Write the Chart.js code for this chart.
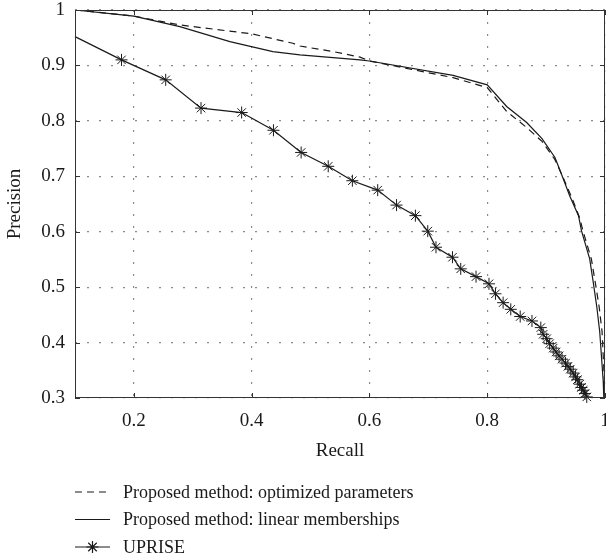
<!DOCTYPE html>
<html>
<head>
<meta charset="utf-8">
<script src="https://cdn.jsdelivr.net/npm/chart.js@4.4.1/dist/chart.umd.min.js"></script>
<style>
  html, body { margin: 0; padding: 0; background: #fff; }
</style>
</head>
<body>
<canvas id="myChart" width="606" height="560"></canvas>
<script>
// values (recall, precision)
const seriesNames = [
  'Proposed method: optimized parameters',
  'Proposed method: linear memberships',
  'UPRISE'
];

const optRecall = [0.100, 0.200, 0.278, 0.400, 0.470, 0.482, 0.538, 0.584, 0.600, 0.742, 0.800, 0.833, 0.867, 0.893, 0.915, 0.928, 0.943, 0.957, 0.963, 0.977, 0.984, 0.990, 0.995, 0.999, 1.000];
const optPrecision = [1.000, 0.989, 0.973, 0.957, 0.940, 0.935, 0.925, 0.915, 0.908, 0.878, 0.860, 0.817, 0.788, 0.763, 0.730, 0.700, 0.663, 0.625, 0.600, 0.550, 0.505, 0.465, 0.420, 0.330, 0.300];

const linRecall = [0.100, 0.200, 0.278, 0.363, 0.436, 0.482, 0.584, 0.600, 0.742, 0.800, 0.833, 0.867, 0.893, 0.915, 0.926, 0.940, 0.955, 0.960, 0.974, 0.980, 0.986, 0.991, 0.997, 0.998];
const linPrecision = [1.000, 0.989, 0.970, 0.943, 0.925, 0.919, 0.910, 0.908, 0.882, 0.865, 0.826, 0.797, 0.768, 0.734, 0.704, 0.665, 0.629, 0.602, 0.551, 0.509, 0.465, 0.420, 0.330, 0.300];

const upriseRecall = [0.100, 0.179, 0.254, 0.314, 0.383, 0.437, 0.484, 0.530, 0.571, 0.614, 0.646, 0.678, 0.699, 0.713, 0.741, 0.755, 0.781, 0.803, 0.814, 0.827, 0.840, 0.856, 0.876, 0.891, 0.895, 0.901, 0.906, 0.912, 0.917, 0.922, 0.927, 0.933, 0.937, 0.941, 0.946, 0.950, 0.953, 0.957, 0.960, 0.963, 0.966, 0.969];
const uprisePrecision = [0.952, 0.910, 0.874, 0.823, 0.815, 0.783, 0.743, 0.718, 0.692, 0.675, 0.648, 0.629, 0.601, 0.572, 0.554, 0.533, 0.519, 0.506, 0.488, 0.472, 0.460, 0.447, 0.439, 0.427, 0.415, 0.407, 0.398, 0.390, 0.383, 0.376, 0.370, 0.363, 0.357, 0.352, 0.345, 0.338, 0.333, 0.325, 0.319, 0.314, 0.308, 0.302];

const xTicks = [0.2, 0.4, 0.6, 0.8, 1];
const yTicks = [0.3, 0.4, 0.5, 0.6, 0.7, 0.8, 0.9, 1];

const FONT = '"Liberation Serif", "DejaVu Serif", serif';
const INK = '#1a1a1a';

const toPoints = ( xs, ys ) => xs.map( ( x, i ) => ( { x, y: ys[ i ] } ) );
const fmt = v => String( +v.toFixed( 1 ) );

// box round the plot, inward ticks, and the legend under the axes
const framePlugin = {
  id: 'frame',
  afterDraw( chart ) {
    const { ctx, chartArea: a, scales } = chart;
    ctx.save();
    ctx.strokeStyle = '#333';
    ctx.lineWidth = 1;
    ctx.strokeRect( a.left + 0.5, a.top + 0.5, a.right - a.left - 1, a.bottom - a.top - 1 );
    ctx.beginPath();
    xTicks.forEach( v => {
      const px = Math.round( scales.x.getPixelForValue( v ) ) + 0.5;
      ctx.moveTo( px, a.bottom ); ctx.lineTo( px, a.bottom - 5 );
      ctx.moveTo( px, a.top ); ctx.lineTo( px, a.top + 5 );
    } );
    yTicks.forEach( v => {
      const py = Math.round( scales.y.getPixelForValue( v ) ) + 0.5;
      ctx.moveTo( a.left, py ); ctx.lineTo( a.left + 5, py );
      ctx.moveTo( a.right, py ); ctx.lineTo( a.right - 5, py );
    } );
    ctx.stroke();

    // legend
    ctx.font = '18px ' + FONT;
    ctx.textBaseline = 'middle';
    ctx.fillStyle = INK;
    chart.data.datasets.forEach( ( ds, i ) => {
      const y = 492 + i * 27.5;
      ctx.strokeStyle = INK;
      ctx.lineWidth = 1.2;
      ctx.setLineDash( ds.borderDash || [] );
      ctx.beginPath();
      ctx.moveTo( 75, y ); ctx.lineTo( 110, y );
      ctx.stroke();
      ctx.setLineDash( [] );
      if ( ds.pointStyle === 'star' ) {
        Chart.helpers.drawPoint( ctx, { pointStyle: 'star', radius: 6, borderWidth: 1, rotation: 0 }, 92.5, y );
      }
      ctx.fillText( ds.label, 123, y + 1 );
    } );
    ctx.restore();
  }
};

const ctx = document.getElementById( 'myChart' ).getContext( '2d' );
const myChart = new Chart( ctx, {
  type: 'scatter',
  data: {
    datasets: [ {
      label: seriesNames[ 0 ],
      data: toPoints( optRecall, optPrecision ),
      showLine: true,
      borderColor: INK,
      borderWidth: 1.2,
      borderDash: [ 7, 5 ],
      pointRadius: 0,
      fill: false
    }, {
      label: seriesNames[ 1 ],
      data: toPoints( linRecall, linPrecision ),
      showLine: true,
      borderColor: INK,
      borderWidth: 1.2,
      pointRadius: 0,
      fill: false
    }, {
      label: seriesNames[ 2 ],
      data: toPoints( upriseRecall, uprisePrecision ),
      showLine: true,
      borderColor: INK,
      borderWidth: 1.2,
      pointStyle: 'star',
      pointRadius: upriseRecall.map( ( r, i ) => i === 0 ? 0 : 6 ),
      pointBorderColor: INK,
      pointBorderWidth: 1,
      pointBackgroundColor: INK,
      clip: 8,
      fill: false
    } ]
  },
  options: {
    responsive: false,
    animation: false,
    layout: { autoPadding: false, padding: { top: 10, right: 1, bottom: 98, left: 0 } },
    plugins: {
      legend: { display: false },
      tooltip: { enabled: false }
    },
    scales: {
      x: {
        type: 'linear',
        min: 0.1,
        max: 1,
        ticks: {
          stepSize: 0.2,
          padding: 12,
          color: INK,
          font: { family: FONT, size: 19 },
          maxRotation: 0,
          callback: v => ( v < 0.15 ? null : fmt( v ) )
        },
        grid: {
          drawTicks: false,
          color: '#8a8a8a',
          lineWidth: 1.2
        },
        border: { display: false, dash: [ 2, 10 ] },
        title: {
          display: true,
          text: 'Recall',
          color: INK,
          font: { family: FONT, size: 19 },
          padding: { top: 4, bottom: 0 }
        },
        afterFit( scale ) {
          scale.height = 64;
          scale.paddingLeft = 0;
          scale.paddingRight = 0;
        }
      },
      y: {
        type: 'linear',
        min: 0.3,
        max: 1,
        ticks: {
          stepSize: 0.1,
          padding: 10,
          color: INK,
          font: { family: FONT, size: 19 },
          callback: v => fmt( v )
        },
        grid: {
          drawTicks: false,
          color: '#8a8a8a',
          lineWidth: 1.2
        },
        border: { display: false, dash: [ 2, 10 ] },
        title: {
          display: true,
          text: 'Precision',
          color: INK,
          font: { family: FONT, size: 19 },
          padding: { top: 4, bottom: 0 }
        },
        afterFit( scale ) {
          scale.width = 75;
          scale.paddingTop = 0;
          scale.paddingBottom = 0;
        }
      }
    }
  },
  plugins: [ framePlugin ]
} );
</script>
</body>
</html>
